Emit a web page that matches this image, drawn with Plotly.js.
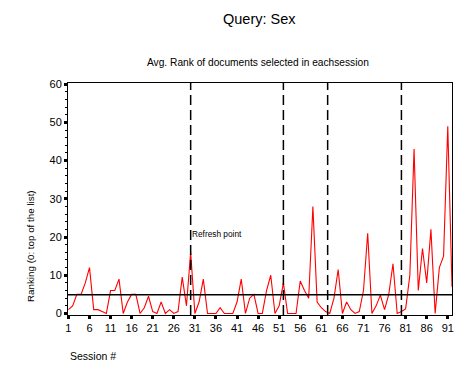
<!DOCTYPE html>
<html>
<head>
<meta charset="utf-8">
<script src="https://cdn.plot.ly/plotly-3.0.1.min.js"></script>
<style>html,body{margin:0;padding:0;background:#fff;}#chart{width:471px;height:377px;}</style>
</head>
<body>
<div id="chart"></div>
<script>
// Session numbers
const sessions = [];
for (let i = 1; i <= 92; i++) sessions.push(i);
// Average rank per session
const avgRank = [
  1, 2, 5, 5, 8, 12, 1, 1, 0.5, 0,
  6, 6, 9, 0, 3, 5, 5, 0, 1.5, 4.5,
  0.5, 0, 3, 0, 1, 0, 0.5, 9.5, 2, 16,
  0, 3, 9, 0, 0, 0, 1.5, 0, 0, 0,
  3, 9, 0, 4, 5, 0, 0, 6, 10, 0,
  2, 8, 0, 0, 0, 8.5, 6, 4, 28, 3,
  1.5, 0.5, 0, 4, 11.5, 0, 3, 1, 0, 0.5,
  6, 21, 0, 2, 4.8, 1, 5, 13, 0, 0.5,
  1.2, 10, 43, 6, 17, 8, 22, 0, 12, 15,
  49, 7
];
const meanRank = 4.9;
const refreshSessions = [30, 52, 62.5, 80];
const tickVals = [1, 6, 11, 16, 21, 26, 31, 36, 41, 46, 51, 56, 61, 66, 71, 76, 81, 86, 91];
const tickText = tickVals.map(String);
const yTicks = [0, 10, 20, 30, 40, 50, 60];

const narrow = "Liberation Sans Narrow, Liberation Sans, Arial, sans-serif";
const sans = "Liberation Sans, Arial, sans-serif";

const trace = {
  x: sessions, y: avgRank, type: 'scatter', mode: 'lines',
  line: {color: '#ff0000', width: 1.1}, hoverinfo: 'skip', showlegend: false
};

const shapes = refreshSessions.map(s => ({
  type: 'line', xref: 'x', yref: 'paper', x0: s, x1: s, y0: 0, y1: 1,
  line: {color: '#000', width: 1.5, dash: '10px,5px'}
}));
shapes.push({type: 'line', xref: 'paper', yref: 'y', x0: 0, x1: 1, y0: meanRank, y1: meanRank,
  line: {color: '#000', width: 1.5}});

const layout = {
  width: 471, height: 377,
  margin: {l: 68, r: 19, t: 83, b: 62},
  paper_bgcolor: '#fff', plot_bgcolor: '#fff',
  showlegend: false,
  xaxis: {
    range: [0.9, 92], tickmode: 'array', tickvals: tickVals, ticktext: tickText,
    showgrid: false, zeroline: false, showline: true, linecolor: '#000', linewidth: 1,
    mirror: true, ticks: 'outside', ticklen: 3, tickwidth: 3, tickcolor: '#000',
    tickfont: {family: sans, size: 11, color: '#000'}
  },
  yaxis: {
    range: [-0.4, 60.3], tickmode: 'array', tickvals: yTicks,
    showgrid: false, zeroline: false, showline: true, linecolor: '#000', linewidth: 1,
    mirror: true, ticks: 'outside', ticklen: 3, tickwidth: 3, tickcolor: '#000',
    tickfont: {family: sans, size: 11, color: '#000'},
    minor: {dtick: 2, ticks: 'outside', ticklen: 2, tickwidth: 1, tickcolor: '#000', showgrid: false}
  },
  shapes: shapes,
  annotations: [
    {text: 'Query: Sex', xref: 'paper', yref: 'paper', x: (259 - 68) / 384, y: (315 - 19) / 232,
     xanchor: 'center', yanchor: 'middle', showarrow: false,
     font: {family: narrow, size: 14.5, color: '#000'}},
    {text: 'Avg. Rank of documents selected in eachsession', xref: 'paper', yref: 'paper',
     x: (258 - 68) / 384, y: (315 - 62) / 232, xanchor: 'center', yanchor: 'middle', showarrow: false,
     font: {family: narrow, size: 10.2, color: '#000'}},
    {text: 'Ranking (0: top of the list)', xref: 'paper', yref: 'paper', textangle: -90,
     x: (30 - 68) / 384, y: (315 - 246) / 232, xanchor: 'center', yanchor: 'middle', showarrow: false,
     font: {family: narrow, size: 9.8, color: '#000'}},
    {text: 'Session #', xref: 'paper', yref: 'paper', x: 0, y: (315 - 356) / 232,
     xanchor: 'left', yanchor: 'middle', showarrow: false,
     font: {family: narrow, size: 10.5, color: '#000'}},
    {text: 'Refresh point', xref: 'x', yref: 'y', x: 29.8, y: 20.7,
     xanchor: 'left', yanchor: 'middle', showarrow: false,
     font: {family: narrow, size: 8.3, color: '#000'}}
  ]
};

Plotly.newPlot('chart', [trace], layout, {staticPlot: true, displayModeBar: false});
</script>
</body>
</html>
